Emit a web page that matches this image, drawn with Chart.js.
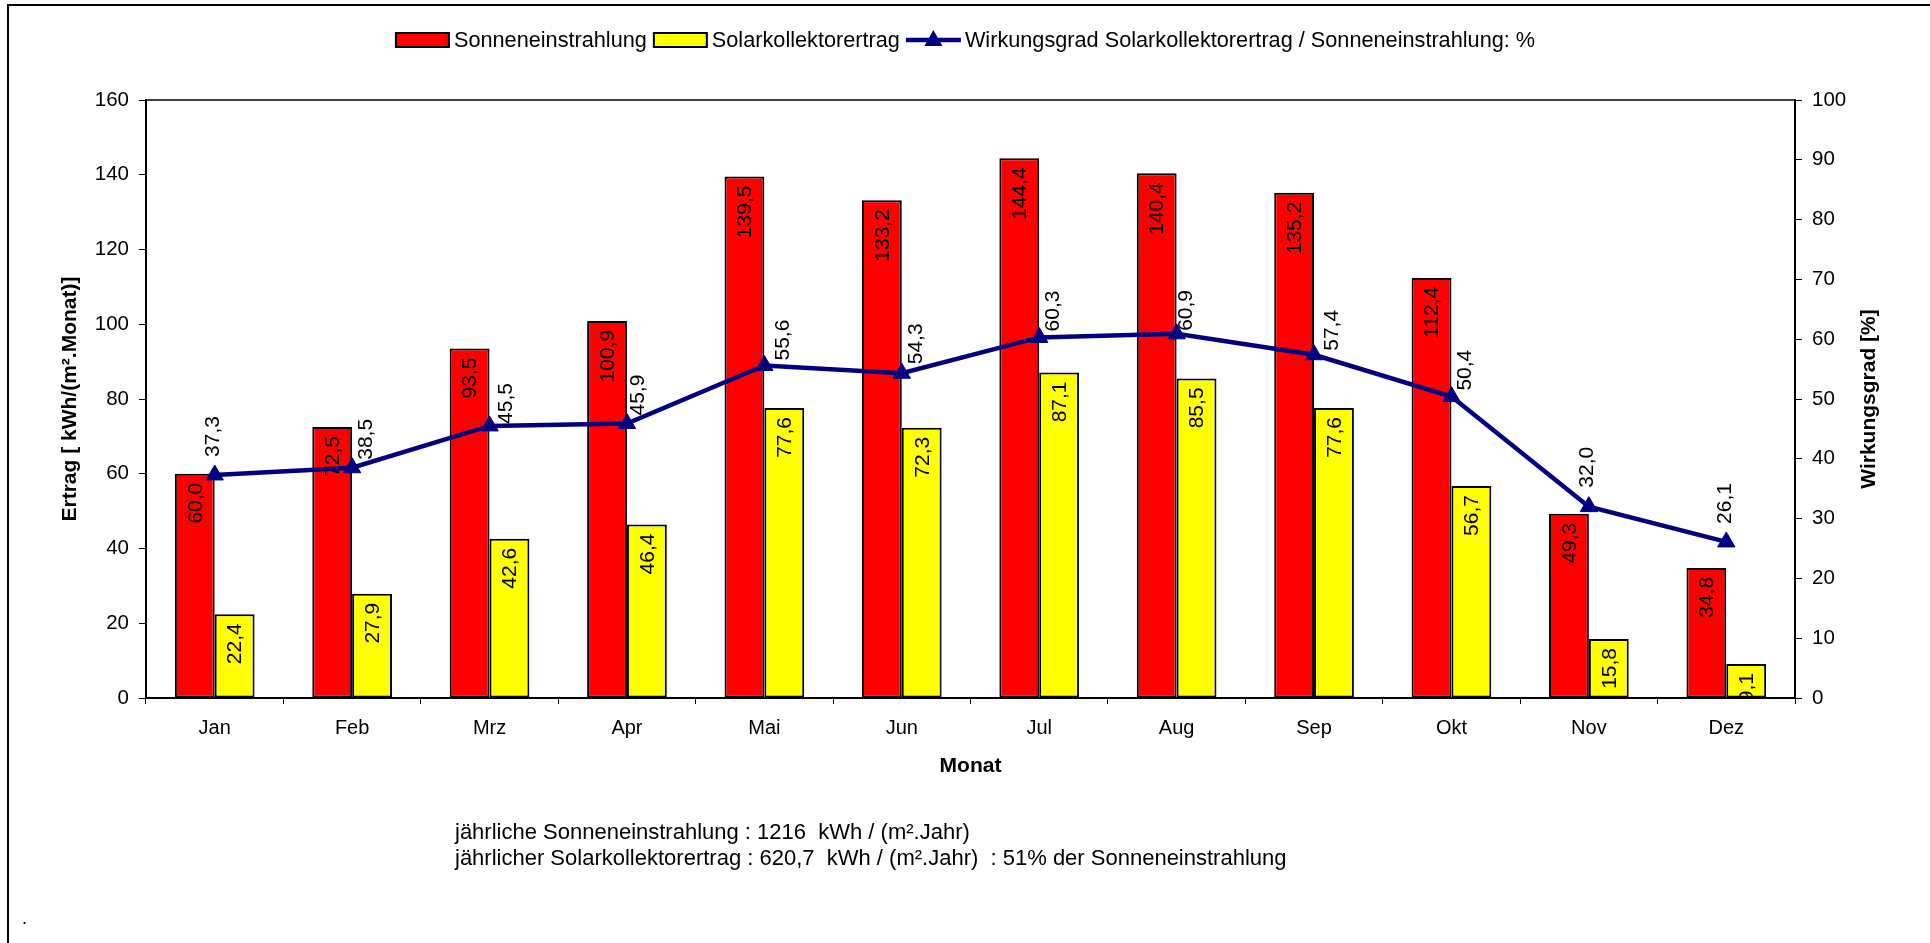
<!DOCTYPE html>
<html>
<head>
<meta charset="utf-8">
<script src="https://cdn.jsdelivr.net/npm/chart.js@4.4.1/dist/chart.umd.min.js"></script>
<style>
	body { margin: 0; background: #fff; font-family: "Liberation Sans", Arial, sans-serif; }
	#wrap { position: relative; width: 1930px; height: 943px; overflow: hidden; }
	#frame { position: absolute; left: 7px; top: 4px; width: 2000px; height: 2000px; border-left: 2px solid #000; border-top: 2px solid #000; }
	#chart-box { position: absolute; left: 0; top: 0; width: 1930px; height: 943px; }
	.note { position: absolute; left: 455px; top: 819px; font-size: 22px; line-height: 26px; color: #000; white-space: pre; }
	.dot { position: absolute; left: 22px; top: 908px; font-size: 18px; color: #000; }
</style>
</head>
<body>
<div id="wrap">
	<div id="frame"></div>
	<div id="chart-box"><canvas id="solar-chart"></canvas></div>
	<div class="note">jährliche Sonneneinstrahlung : 1216  kWh / (m².Jahr)
jährlicher Solarkollektorertrag : 620,7  kWh / (m².Jahr)  : 51% der Sonneneinstrahlung</div>
	<div class="dot">.</div>
</div>
<script>
const months = ["Jan", "Feb", "Mrz", "Apr", "Mai", "Jun", "Jul", "Aug", "Sep", "Okt", "Nov", "Dez"];
const sonneneinstrahlung = [60.0, 72.5, 93.5, 100.9, 139.5, 133.2, 144.4, 140.4, 135.2, 112.4, 49.3, 34.8];
const kollektorertrag = [22.4, 27.9, 42.6, 46.4, 77.6, 72.3, 87.1, 85.5, 77.6, 56.7, 15.8, 9.1];
const wirkungsgrad = [37.3, 38.5, 45.5, 45.9, 55.6, 54.3, 60.3, 60.9, 57.4, 50.4, 32.0, 26.1];
const ertragTicks = [0, 20, 40, 60, 80, 100, 120, 140, 160];
const prozentTicks = [0, 10, 20, 30, 40, 50, 60, 70, 80, 90, 100];

// where the efficiency labels sit relative to their point (dx, bottom of text)
const lineLabelShift = [[-2, -18], [14, -8], [17, -2], [11, -8], [19, -5], [14, -9],
	[14, -6], [10, -3], [18, -4], [14, -6], [-2, -19], [-1, -18]];

const FONT = "'Liberation Sans', Arial, sans-serif";
const NAVY = "#000080";

const fmt = v => v.toFixed(1).replace(".", ",");

const setTicks = list => scale => {
	scale.ticks = list.map(v => ({ value: v }));
};

const labelPlugin = {
	id: "valueLabels",
	afterDatasetDraw(chart, args) {
		const ds = chart.data.datasets[args.index];
		if (ds.type === "line") return;
		const ctx = chart.ctx;
		const area = chart.chartArea;
		ctx.save();
		ctx.beginPath();
		ctx.rect(area.left, area.top, area.right - area.left, area.bottom - area.top);
		ctx.clip();
		ctx.font = "21px " + FONT;
		ctx.fillStyle = "#000";
		ctx.textAlign = "right";
		ctx.textBaseline = "middle";
		args.meta.data.forEach((bar, i) => {
			ctx.save();
			ctx.translate(bar.x + 1, bar.y + 9);
			ctx.rotate(-Math.PI / 2);
			ctx.fillText(fmt(ds.data[i]), 0, 0);
			ctx.restore();
		});
		ctx.restore();
	},
	afterDatasetsDraw(chart) {
		const ctx = chart.ctx;
		const area = chart.chartArea;
		// frame of the plot area
		ctx.save();
		ctx.strokeStyle = "#000";
		ctx.lineWidth = 1.5;
		ctx.beginPath();
		ctx.moveTo(area.left, area.top);
		ctx.lineTo(area.right, area.top);
		ctx.stroke();
		ctx.restore();

		const meta = chart.getDatasetMeta(2);
		ctx.save();
		ctx.font = "21px " + FONT;
		ctx.fillStyle = "#000";
		ctx.textAlign = "left";
		ctx.textBaseline = "middle";
		meta.data.forEach((pt, i) => {
			const sh = lineLabelShift[i];
			ctx.save();
			ctx.translate(pt.x + sh[0], pt.y + sh[1]);
			ctx.rotate(-Math.PI / 2);
			ctx.fillText(fmt(wirkungsgrad[i]), 0, 0);
			ctx.restore();
		});
		ctx.restore();
	},
	afterDraw(chart) {
		const ctx = chart.ctx;
		const area = chart.chartArea;
		// right axis title, reading upwards like the left one
		ctx.save();
		ctx.font = "bold 21px " + FONT;
		ctx.fillStyle = "#000";
		ctx.textAlign = "center";
		ctx.textBaseline = "middle";
		ctx.translate(1869, (area.top + area.bottom) / 2);
		ctx.rotate(-Math.PI / 2);
		ctx.fillText("Wirkungsgrad [%]", 0, 0);
		ctx.restore();

		// legend
		const items = [
			{ kind: "box", fill: "#FF0000", text: "Sonneneinstrahlung" },
			{ kind: "box", fill: "#FFFF00", text: "Solarkollektorertrag" },
			{ kind: "line", fill: NAVY, text: "Wirkungsgrad Solarkollektorertrag / Sonneneinstrahlung: %" }
		];
		ctx.save();
		ctx.font = "21.7px " + FONT;
		const symW = 55, gapIn = 4, gapOut = 6;
		let total = 0;
		items.forEach((it, k) => {
			it.w = ctx.measureText(it.text).width;
			total += symW + gapIn + it.w + (k < items.length - 1 ? gapOut : 0);
		});
		let x = chart.width / 2 - total / 2;
		const cy = 40;
		items.forEach(it => {
			if (it.kind === "box") {
				ctx.fillStyle = it.fill;
				ctx.fillRect(x + 1, cy - 7, symW - 2, 14);
				ctx.strokeStyle = "#000";
				ctx.lineWidth = 2;
				ctx.strokeRect(x + 1, cy - 7, symW - 2, 14);
			} else {
				ctx.strokeStyle = it.fill;
				ctx.lineWidth = 4.5;
				ctx.beginPath();
				ctx.moveTo(x, cy);
				ctx.lineTo(x + symW, cy);
				ctx.stroke();
				ctx.fillStyle = it.fill;
				ctx.beginPath();
				const tx = x + symW / 2;
				ctx.moveTo(tx, cy - 10);
				ctx.lineTo(tx + 9, cy + 6);
				ctx.lineTo(tx - 9, cy + 6);
				ctx.closePath();
				ctx.fill();
			}
			x += symW + gapIn;
			ctx.fillStyle = "#000";
			ctx.textAlign = "left";
			ctx.textBaseline = "middle";
			ctx.fillText(it.text, x, cy + 1);
			x += it.w + gapOut;
		});
		ctx.restore();
	}
};

const solarData = {
	labels: months,
	datasets: [
		{
			type: "bar",
			label: "Sonneneinstrahlung",
			data: sonneneinstrahlung,
			backgroundColor: "#FF0000",
			borderColor: "#000",
			borderWidth: 2,
			borderSkipped: false,
			yAxisID: "y",
			order: 2
		},
		{
			type: "bar",
			label: "Solarkollektorertrag",
			data: kollektorertrag,
			backgroundColor: "#FFFF00",
			borderColor: "#000",
			borderWidth: 2,
			borderSkipped: false,
			yAxisID: "y",
			order: 2
		},
		{
			type: "line",
			label: "Wirkungsgrad Solarkollektorertrag / Sonneneinstrahlung: %",
			data: wirkungsgrad,
			borderColor: NAVY,
			backgroundColor: NAVY,
			borderWidth: 4.5,
			tension: 0,
			pointStyle: "triangle",
			pointRadius: 10,
			pointBorderWidth: 1,
			yAxisID: "y1",
			order: 1
		}
	]
};

const solarOptions = {
	responsive: true,
	maintainAspectRatio: false,
	animation: false,
	layout: {
		padding: { left: 0, right: 0, top: 100, bottom: 164 }
	},
	datasets: {
		bar: { barPercentage: 1, categoryPercentage: 0.58 }
	},
	plugins: {
		legend: { display: false },
		tooltip: { enabled: false }
	},
	scales: {
		x: {
			offset: true,
			grid: { offset: true, drawOnChartArea: false, tickLength: 6, color: "#000", lineWidth: 1 },
			border: { display: true, color: "#000", width: 2 },
			ticks: { color: "#000", font: { family: FONT, size: 20 }, padding: 12 },
			title: { display: true, text: "Monat", color: "#000", font: { family: FONT, size: 21, weight: "bold" }, padding: 0 },
			afterFit: scale => { scale.height = 81; }
		},
		y: {
			position: "left",
			min: 0,
			max: 160,
			afterBuildTicks: setTicks(ertragTicks),
			grid: { drawOnChartArea: false, tickLength: 7, color: "#000", lineWidth: 1 },
			border: { display: true, color: "#000", width: 2 },
			ticks: { color: "#000", font: { family: FONT, size: 20.5 }, padding: 10 },
			title: { display: true, text: "Ertrag [ kWh/(m².Monat)]", color: "#000", font: { family: FONT, size: 21, weight: "bold" }, padding: { top: 58, bottom: 0 } },
			afterFit: scale => { scale.width = 146; }
		},
		y1: {
			position: "right",
			min: 0,
			max: 100,
			afterBuildTicks: setTicks(prozentTicks),
			grid: { drawOnChartArea: false, tickLength: 7, color: "#000", lineWidth: 1 },
			border: { display: true, color: "#000", width: 2 },
			ticks: { color: "#000", font: { family: FONT, size: 20.5 }, padding: 10 },
			afterFit: scale => { scale.width = 135; }
		}
	}
};

const solarContext = document.getElementById("solar-chart").getContext("2d");
const solarChart = new Chart(solarContext, {
	data: solarData,
	options: solarOptions,
	plugins: [labelPlugin]
});
</script>
</body>
</html>
